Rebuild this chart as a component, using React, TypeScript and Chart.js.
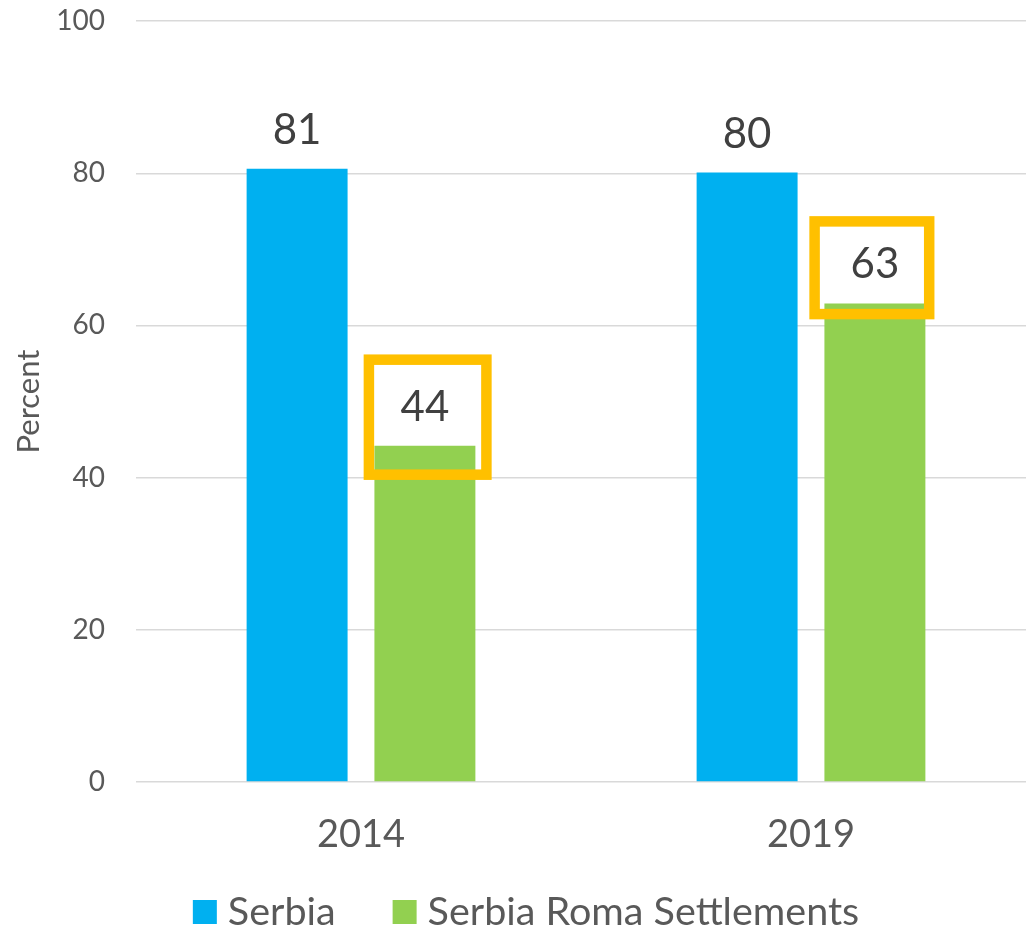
import React, { useEffect, useRef } from "react";
import { Chart, registerables } from "chart.js";

Chart.register(...registerables);

const categories = ["2014", "2019"];
const seriesNames = ["Serbia", "Serbia Roma Settlements"];
const serbiaValues = [80.6, 80.1];
const romaValues = [44.2, 62.9];
const yTickValues = [0, 20, 40, 60, 80, 100];

const BLUE = "#00B0F0";
const GREEN = "#92D050";
const ORANGE = "#FFC000";
const TICK_COLOR = "#595959";
const LABEL_COLOR = "#404040";
const FONT = "Lato, 'Open Sans', sans-serif";

// highlight frames around the Roma data labels (offsets from bar centre / bar top)
const highlightFrames = [
  { index: 0, left: -56, right: 61.5, top: -86, bottom: 29 },
  { index: 1, left: -60.3, right: 54.3, top: -82, bottom: 10.7 },
];

const overlayPlugin = {
  id: "overlay",
  afterDatasetsDraw(chart: any) {
    const ctx = chart.ctx;
    ctx.save();
    chart.data.datasets.forEach((ds: any, di: number) => {
      const meta = chart.getDatasetMeta(di);
      meta.data.forEach((bar: any, i: number) => {
        ctx.font = `42px ${FONT}`;
        ctx.fillStyle = LABEL_COLOR;
        ctx.textAlign = "center";
        ctx.textBaseline = "alphabetic";
        ctx.fillText(String(Math.round(ds.data[i])), bar.x, bar.y - 25);
      });
    });
    const meta = chart.getDatasetMeta(1);
    ctx.strokeStyle = ORANGE;
    ctx.lineWidth = 10.5;
    ctx.lineJoin = "miter";
    highlightFrames.forEach((f) => {
      const bar = meta.data[f.index];
      ctx.strokeRect(
        bar.x + f.left,
        bar.y + f.top,
        f.right - f.left,
        f.bottom - f.top
      );
    });
    ctx.restore();
  },
  afterDraw(chart: any) {
    const ctx = chart.ctx;
    ctx.save();
    ctx.font = `39.5px ${FONT}`;
    const box = 24;
    const gapText = 11;
    const gapItem = 57;
    const items = chart.data.datasets.map((ds: any) => ({
      label: ds.label,
      color: ds.backgroundColor,
      w: ctx.measureText(ds.label).width,
    }));
    const total =
      items.reduce((s: number, it: any) => s + box + gapText + it.w, 0) +
      gapItem * (items.length - 1);
    let x = chart.width / 2 + 8 - total / 2;
    const baseline = 925;
    items.forEach((it: any) => {
      ctx.fillStyle = it.color;
      ctx.fillRect(x, baseline - 25, box, box);
      x += box + gapText;
      ctx.fillStyle = TICK_COLOR;
      ctx.textAlign = "left";
      ctx.textBaseline = "alphabetic";
      ctx.fillText(it.label, x, baseline);
      x += it.w + gapItem;
    });
    ctx.restore();
  },
};

export default function App() {
  const ref = useRef<HTMLCanvasElement>(null);
  useEffect(() => {
    if (!ref.current) return;
    const chart = new Chart(ref.current, {
      type: "bar",
      data: {
        labels: categories,
        datasets: [
          {
            label: seriesNames[0],
            data: serbiaValues,
            backgroundColor: BLUE,
            categoryPercentage: 0.568,
            barPercentage: 0.79,
          },
          {
            label: seriesNames[1],
            data: romaValues,
            backgroundColor: GREEN,
            categoryPercentage: 0.568,
            barPercentage: 0.79,
          },
        ],
      },
      options: {
        responsive: false,
        animation: false,
        devicePixelRatio: 1,
        layout: { padding: { top: 21.1, bottom: 78, left: 0, right: 0 } },
        plugins: {
          legend: { display: false },
          tooltip: { enabled: false },
        },
        scales: {
          x: {
            grid: { display: false, drawTicks: false },
            border: { display: false },
            ticks: {
              color: TICK_COLOR,
              font: { family: FONT, size: 38 },
              padding: 30,
            },
            afterFit: (s: any) => {
              s.height = 70;
              s.paddingLeft = 0;
              s.paddingRight = 0;
            },
          },
          y: {
            min: 0,
            max: 100,
            afterBuildTicks: (s: any) => {
              s.ticks = yTickValues.map((v) => ({ value: v }));
            },
            grid: { color: "#D9D9D9", lineWidth: 1.5, drawTicks: false },
            border: { display: false },
            ticks: {
              color: TICK_COLOR,
              font: { family: FONT, size: 28 },
              padding: 31,
            },
            title: {
              display: true,
              text: "Percent",
              color: TICK_COLOR,
              font: { family: FONT, size: 31 },
              padding: { top: 10, bottom: 0 },
            },
            afterFit: (s: any) => {
              s.width = 136;
              s.paddingTop = 0;
              s.paddingBottom = 0;
            },
          },
        },
      },
      plugins: [overlayPlugin],
    });
    return () => chart.destroy();
  }, []);
  return (
    <div
      style={{
        position: "fixed",
        left: 0,
        top: 0,
        width: 1026,
        height: 930,
        overflow: "hidden",
        background: "#fff",
      }}
    >
      <canvas ref={ref} width={1036} height={930} />
    </div>
  );
}
